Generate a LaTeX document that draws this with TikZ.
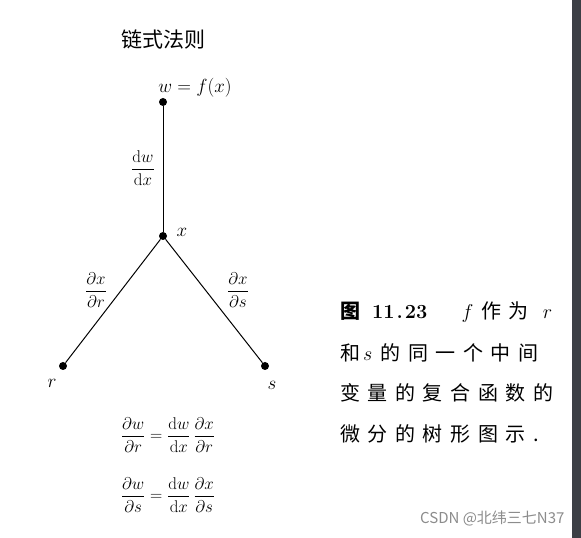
\RequirePackage{fix-cm}
\documentclass[tikz,border=0pt]{standalone}
\usepackage{fontspec}
\newfontfamily\cjk{Noto Sans CJK SC}
\newfontfamily\cjkwide[LetterSpace=38]{Noto Sans CJK SC}
\usetikzlibrary{positioning}
\definecolor{edgebar}{HTML}{3C3F45}

\tikzset{
  vertex/.style={circle,fill=black,inner sep=0pt,minimum size=8pt},
  lab/.style={inner sep=1pt,font=\fontsize{19}{23}\selectfont},
  fraclab/.style={inner sep=1pt,font=\fontsize{17}{20}\selectfont},
  capline/.style={anchor=west,inner sep=0pt,font=\fontsize{20}{24}\selectfont\cjkwide},
  branch/.style={line width=1pt},
}

\begin{document}
\begin{tikzpicture}[x=1pt,y=1pt]
\fill[white] (0,0) rectangle (581,538);
\fill[edgebar] (572,0) rectangle (581,538);

% title
\node[font=\fontsize{21}{25}\selectfont\cjk] (title) at (163,498) {链式法则};

% tree
\node[vertex] (w) at (163,436) {};
\node[vertex] (x) at (163,302) {};
\node[vertex] (r) at (63,172) {};
\node[vertex] (s) at (265,172) {};
\draw[branch] (w) -- (x);
\draw[branch] (x) -- (r);
\draw[branch] (x) -- (s);

\node[lab] (wlab) at (195,450) {$w=f(x)$};
\node[lab] (xlab) at (182,306) {$x$};
\node[lab] (rlab) at (52,155) {$r$};
\node[lab] (slab) at (272,153) {$s$};
\node[fraclab] (dwdx) at (143,370) {$\displaystyle\frac{\mathrm{d}w}{\mathrm{d}x}$};
\node[fraclab] (dxdr) at (96,248) {$\displaystyle\frac{\partial x}{\partial r}$};
\node[fraclab] (dxds) at (238,248) {$\displaystyle\frac{\partial x}{\partial s}$};

% formulas
\node[fraclab] (eqr) at (168,103) {$\displaystyle\frac{\partial w}{\partial r}=\frac{\mathrm{d}w}{\mathrm{d}x}\,\frac{\partial x}{\partial r}$};
\node[fraclab] (eqs) at (168,43) {$\displaystyle\frac{\partial w}{\partial s}=\frac{\mathrm{d}w}{\mathrm{d}x}\,\frac{\partial x}{\partial s}$};

% caption
\node[capline] (cap1) at (340,226) {{\cjk\bfseries 图}\hspace{12pt}{\rmfamily\bfseries 11\hspace{2pt}.\hspace{2pt}23}\hspace{34pt}$f$\hspace{8pt}作为\hspace{14pt}$r$};
\node[capline] (cap2) at (340,185) {和\hspace{3pt}$s$\hspace{8pt}的同一个中间};
\node[capline] (cap3) at (340,145) {变量的复合函数的};
\node[capline] (cap4) at (340,104) {微分的树形图示.};

% watermark
\node[anchor=east,text=black!45,font=\fontsize{15}{18}\selectfont\cjk] (mark) at (568,20) {CSDN @北纬三七N37};
\end{tikzpicture}
\end{document}
